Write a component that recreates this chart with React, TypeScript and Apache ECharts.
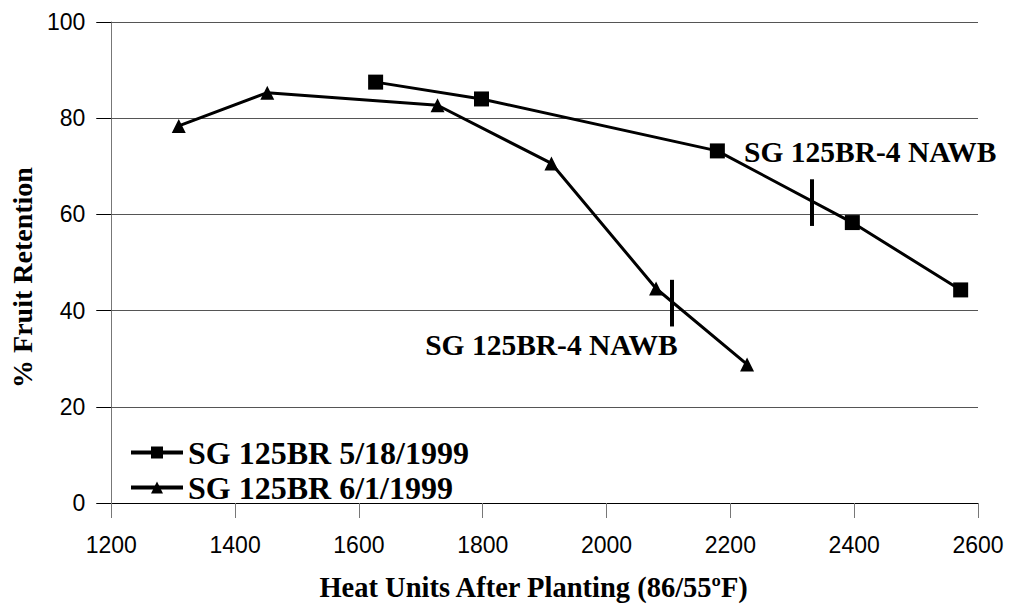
import React, { useEffect, useRef } from "react";
import * as echarts from "echarts";

const seriesNames = ["SG 125BR 5/18/1999", "SG 125BR 6/1/1999"];
const may18X = [1627, 1798, 2179, 2397, 2572];
const may18Y = [87.5, 84.0, 73.2, 58.3, 44.3];
const jun1X = [1309, 1452, 1727, 1911, 2080, 2227];
const jun1Y = [78.4, 85.3, 82.7, 70.6, 44.6, 28.8];
const xTicks = [1200, 1400, 1600, 1800, 2000, 2200, 2400, 2600];
const yTicks = [0, 20, 40, 60, 80, 100];
const annotationText = ["SG 125BR-4 NAWB", "SG 125BR-4 NAWB"];
const annotationX = [2222, 1707];
const annotationY = [72.9, 32.9];
const markerX = [2331, 2106];
const markerYTop = [67.3, 46.4];
const markerYBottom = [57.6, 36.7];

const serif = '"Liberation Serif", "Times New Roman", serif';
const sans = '"Liberation Sans", Arial, sans-serif';

export default function App() {
  const ref = useRef<HTMLDivElement>(null);
  useEffect(() => {
    document.body.style.margin = "0";
    if (!ref.current) return;
    const chart = echarts.init(ref.current, undefined, { renderer: "svg" });
    const pts = (xs: number[], ys: number[]) => xs.map((x, i) => [x, ys[i]]);
    const option = {
      animation: false,
      backgroundColor: "#ffffff",
      grid: { left: 103, right: 32, top: 22, bottom: 106 },
      legend: {
        data: seriesNames,
        orient: "vertical",
        left: 124,
        top: 430,
        itemWidth: 52,
        itemHeight: 15,
        itemGap: 0,
        selectedMode: false,
        lineStyle: { width: 4, color: "#000" },
        textStyle: { fontFamily: serif, fontWeight: "bold", fontSize: 32, lineHeight: 35, color: "#000" },
      },
      xAxis: {
        type: "value",
        min: xTicks[0],
        max: xTicks[xTicks.length - 1],
        interval: 200,
        name: "Heat Units After Planting (86/55ºF)",
        nameLocation: "middle",
        nameGap: 70,
        nameTextStyle: { fontFamily: serif, fontWeight: "bold", fontSize: 28.5, color: "#000", padding: [0, 22, 0, 0] },
        axisLine: { show: true, onZero: false, lineStyle: { color: "#000", width: 1 } },
        axisTick: { show: true, length: 15, lineStyle: { color: "#777", width: 1 } },
        axisLabel: { margin: 30, fontFamily: sans, fontSize: 23, color: "#000", formatter: (v: number) => String(v) },
        splitLine: { show: false },
      },
      yAxis: {
        type: "value",
        min: yTicks[0],
        max: yTicks[yTicks.length - 1],
        interval: 20,
        name: "% Fruit Retention",
        nameLocation: "middle",
        nameGap: 67,
        nameTextStyle: { fontFamily: serif, fontWeight: "bold", fontSize: 28, color: "#000", padding: [0, 30, 0, 0] },
        axisLine: { show: true, lineStyle: { color: "#777", width: 1 } },
        axisTick: { show: true, length: 15, lineStyle: { color: "#000", width: 1 } },
        axisLabel: { margin: 26, fontFamily: sans, fontSize: 23, color: "#000", formatter: (v: number) => String(v) },
        splitLine: { show: true, lineStyle: { color: "#555", width: 1 } },
      },
      series: [
        {
          name: seriesNames[0],
          type: "line",
          data: pts(may18X, may18Y),
          symbol: "rect",
          symbolSize: 15,
          lineStyle: { color: "#000", width: 3 },
          itemStyle: { color: "#000" },
          z: 3,
        },
        {
          name: seriesNames[1],
          type: "line",
          data: pts(jun1X, jun1Y),
          symbol: "triangle",
          symbolSize: 14,
          lineStyle: { color: "#000", width: 3 },
          itemStyle: { color: "#000" },
          z: 3,
          markLine: {
            silent: true,
            symbol: "none",
            label: { show: false },
            lineStyle: { color: "#000", width: 4, type: "solid" },
            data: markerX.map((x, i) => [
              { coord: [x, markerYTop[i]] },
              { coord: [x, markerYBottom[i]] },
            ]),
          },
        },
        {
          name: "annotations",
          type: "scatter",
          symbolSize: 0,
          silent: true,
          itemStyle: { opacity: 1, color: "#000" },
          data: annotationText.map((t, i) => ({ name: t, value: [annotationX[i], annotationY[i]] })),
          label: {
            show: true,
            position: "right",
            distance: 0,
            formatter: (p: any) => p.name,
            fontFamily: serif,
            fontWeight: "bold",
            fontSize: 29.5,
            color: "#000",
            opacity: 1,
          },
          z: 4,
        },
      ],
    };
    chart.setOption(option as any);
    return () => chart.dispose();
  }, []);
  return <div ref={ref} style={{ width: 1010, height: 609 }} />;
}
